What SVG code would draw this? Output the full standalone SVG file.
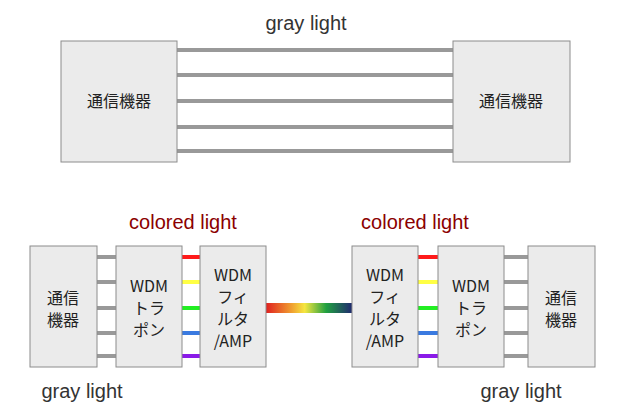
<svg xmlns="http://www.w3.org/2000/svg" width="624" height="419" viewBox="0 0 624 419">
<defs>
<style>
.box{fill:#ebebeb;stroke:#8c8c8c;stroke-width:1}
.t{font-family:"Noto Sans CJK JP","Liberation Sans",sans-serif;font-size:16px;fill:#222;text-anchor:middle}
.lbl{font-family:"Liberation Sans",sans-serif;font-size:20px;text-anchor:middle}
.g{stroke:#999;stroke-width:4}
.c{stroke-width:4}
</style>
<linearGradient id="rb" x1="0" x2="1">
<stop offset="0" stop-color="#e02020"/><stop offset="0.3" stop-color="#f0a030"/><stop offset="0.45" stop-color="#f5e640"/><stop offset="0.7" stop-color="#20a040"/><stop offset="1" stop-color="#202a70"/>
</linearGradient>
</defs>
<g id="connectors">
<g class="g">
<line x1="177" y1="50" x2="453" y2="50"/><line x1="177" y1="75" x2="453" y2="75"/><line x1="177" y1="101" x2="453" y2="101"/><line x1="177" y1="127" x2="453" y2="127"/><line x1="177" y1="151" x2="453" y2="151"/>
<line x1="97" y1="257" x2="116" y2="257"/><line x1="97" y1="282" x2="116" y2="282"/><line x1="97" y1="308" x2="116" y2="308"/><line x1="97" y1="333" x2="116" y2="333"/><line x1="97" y1="356" x2="116" y2="356"/>
<line x1="504" y1="257" x2="528" y2="257"/><line x1="504" y1="282" x2="528" y2="282"/><line x1="504" y1="308" x2="528" y2="308"/><line x1="504" y1="333" x2="528" y2="333"/><line x1="504" y1="356" x2="528" y2="356"/>
</g>
<g class="c">
<line x1="182" y1="257" x2="200" y2="257" stroke="#ff1a1a"/><line x1="182" y1="282" x2="200" y2="282" stroke="#ffff44"/><line x1="182" y1="308" x2="200" y2="308" stroke="#22ee22"/><line x1="182" y1="333" x2="200" y2="333" stroke="#3a7ae0"/><line x1="182" y1="356" x2="200" y2="356" stroke="#8a1ae8"/>
<line x1="418" y1="257" x2="438" y2="257" stroke="#ff1a1a"/><line x1="418" y1="282" x2="438" y2="282" stroke="#ffff44"/><line x1="418" y1="308" x2="438" y2="308" stroke="#22ee22"/><line x1="418" y1="333" x2="438" y2="333" stroke="#3a7ae0"/><line x1="418" y1="356" x2="438" y2="356" stroke="#8a1ae8"/>
</g>
<rect x="266" y="303" width="86" height="10" fill="url(#rb)"/>
</g>
<g id="top-left"><rect class="box" x="61" y="41" width="116" height="121"/><text class="t" x="119" y="107">通信機器</text></g>
<g id="top-right"><rect class="box" x="453" y="41" width="117" height="121"/><text class="t" x="511" y="107">通信機器</text></g>
<g id="bl-comm"><rect class="box" x="30" y="246" width="67" height="121"/><text class="t" x="63" y="304">通信</text><text class="t" x="63" y="326">機器</text></g>
<g id="bl-trans"><rect class="box" x="116" y="246" width="66" height="121"/><text class="t" x="149" y="292">WDM</text><text class="t" x="149" y="314">トラ</text><text class="t" x="149" y="336">ポン</text></g>
<g id="bl-filter"><rect class="box" x="200" y="246" width="66" height="121"/><text class="t" x="233" y="281">WDM</text><text class="t" x="233" y="303">フィ</text><text class="t" x="233" y="325">ルタ</text><text class="t" x="233" y="347">/AMP</text></g>
<g id="br-filter"><rect class="box" x="352" y="246" width="66" height="121"/><text class="t" x="385" y="281">WDM</text><text class="t" x="385" y="303">フィ</text><text class="t" x="385" y="325">ルタ</text><text class="t" x="385" y="347">/AMP</text></g>
<g id="br-trans"><rect class="box" x="438" y="246" width="66" height="121"/><text class="t" x="471" y="292">WDM</text><text class="t" x="471" y="314">トラ</text><text class="t" x="471" y="336">ポン</text></g>
<g id="br-comm"><rect class="box" x="528" y="246" width="67" height="121"/><text class="t" x="561" y="304">通信</text><text class="t" x="561" y="326">機器</text></g>
<text class="lbl" x="306" y="30" fill="#333">gray light</text>
<text class="lbl" x="183" y="229" fill="#8b0000">colored light</text>
<text class="lbl" x="415" y="229" fill="#8b0000">colored light</text>
<text class="lbl" x="82" y="398" fill="#333">gray light</text>
<text class="lbl" x="521" y="398" fill="#333">gray light</text>
</svg>
